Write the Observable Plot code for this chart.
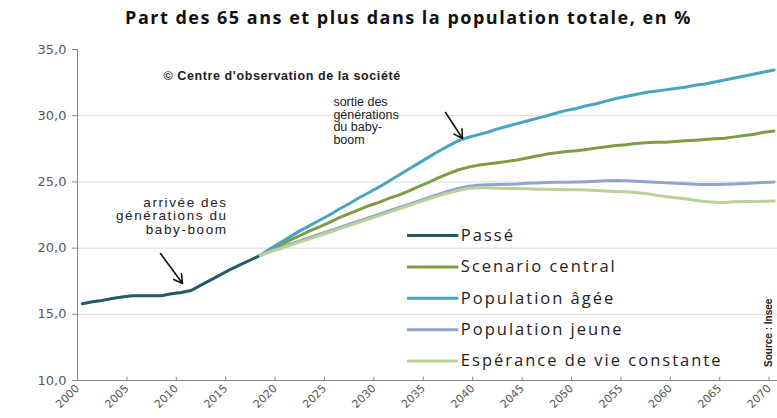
<!DOCTYPE html>
<html><head><meta charset="utf-8">
<script src="https://cdn.jsdelivr.net/npm/d3@7"></script>
<script src="https://cdn.jsdelivr.net/npm/@observablehq/plot@0.6"></script>
<style>
body{margin:0;background:#fff;width:777px;height:418px;overflow:hidden;}
#title{height:30px;box-sizing:border-box;padding-top:5px;padding-left:40px;text-align:center;font:700 18px 'Open Sans';line-height:24px;color:#111;letter-spacing:1.5px;}
</style></head><body>
<div id="title">Part des 65 ans et plus dans la population totale, en %</div>
<div id="chart"></div>
<script>
const pastYears = [2000,2001,2002,2003,2004,2005,2006,2007,2008,2009,2010,2011,2012,2013,2014,2015,2016,2017,2018];
const passe = [15.8,15.95,16.05,16.2,16.3,16.4,16.4,16.4,16.4,16.55,16.65,16.8,17.2,17.6,18.0,18.4,18.75,19.1,19.45];

const projYears = [2018,2019,2020,2021,2022,2023,2024,2025,2026,2027,2028,2029,2030,2031,2032,2033,2034,2035,2036,2037,2038,2039,2040,2041,2042,2043,2044,2045,2046,2047,2048,2049,2050,2051,2052,2053,2054,2055,2056,2057,2058,2059,2060,2061,2062,2063,2064,2065,2066,2067,2068,2069,2070];
const central = [19.45,19.85,20.2,20.6,20.95,21.3,21.6,21.95,22.3,22.6,22.9,23.2,23.45,23.75,24.0,24.3,24.65,24.95,25.3,25.6,25.9,26.1,26.25,26.35,26.45,26.55,26.65,26.8,26.95,27.1,27.2,27.3,27.35,27.45,27.55,27.65,27.75,27.8,27.9,27.95,28.0,28.0,28.05,28.1,28.15,28.2,28.25,28.3,28.4,28.5,28.6,28.75,28.85];
const agee = [19.45,19.95,20.4,20.85,21.3,21.7,22.1,22.5,22.95,23.35,23.8,24.2,24.6,25.05,25.5,25.95,26.4,26.85,27.3,27.7,28.1,28.35,28.55,28.75,29.0,29.2,29.4,29.6,29.8,30.0,30.2,30.4,30.55,30.75,30.9,31.1,31.3,31.45,31.6,31.75,31.85,31.95,32.05,32.15,32.3,32.4,32.55,32.7,32.85,33.0,33.15,33.3,33.45];
const jeune = [19.45,19.75,20.0,20.3,20.55,20.8,21.05,21.3,21.55,21.8,22.05,22.3,22.55,22.8,23.05,23.3,23.55,23.8,24.05,24.3,24.5,24.65,24.75,24.78,24.8,24.82,24.85,24.9,24.92,24.95,24.97,24.98,25.0,25.02,25.05,25.08,25.1,25.08,25.05,25.02,24.98,24.93,24.9,24.86,24.82,24.8,24.8,24.82,24.85,24.88,24.92,24.96,25.0];
const esperance = [19.45,19.72,19.95,20.2,20.45,20.7,20.95,21.2,21.45,21.7,21.95,22.2,22.45,22.7,22.95,23.2,23.45,23.7,23.95,24.15,24.35,24.5,24.55,24.55,24.52,24.5,24.5,24.48,24.45,24.45,24.42,24.4,24.4,24.38,24.35,24.32,24.28,24.25,24.2,24.12,24.0,23.9,23.8,23.72,23.62,23.52,23.47,23.45,23.5,23.52,23.52,23.53,23.55];

const seriesNames = ["Passé","Scenario central","Population âgée","Population jeune","Espérance de vie constante"];
const seriesColors = ["#245a68","#7e9d43","#4aa3bf","#8fa5cf","#bcd197"];
const xTicks = [2000,2005,2010,2015,2020,2025,2030,2035,2040,2045,2050,2055,2060,2065,2070];
const yTicks = [10,15,20,25,30,35];
const gridValues = [15,20,25,30];
const copyrightText = "© Centre d'observation de la société";
const sortieText = "sortie des\ngénérations\ndu baby-\nboom";
const arriveeText = "arrivée des\ngénérations du\nbaby-boom";
const sourceText = "Source : Insee";

const rows = [];
pastYears.forEach((y,i)=>rows.push({year:y, value:passe[i], series:seriesNames[0]}));
const proj = [central, agee, jeune, esperance];
proj.forEach((arr,k)=>projYears.forEach((y,i)=>rows.push({year:y, value:arr[i], series:seriesNames[k+1]})));

const legendRows = seriesNames.map((s,i)=>({series:s, color:seriesColors[i], y:20.95 - i*2.37}));
const fmt = d => d.toFixed(1).replace(".", ",");

const lineMarks = seriesNames.map((s,i)=>Plot.line(rows.filter(r=>r.series===s), {
  x: d=>d.year+0.5, y:"value", stroke: seriesColors[i], strokeWidth: 3, strokeLinejoin:"round", curve:"linear"
}));

const chart = Plot.plot({
  width: 777, height: 388,
  marginLeft: 77, marginRight: 0, marginTop: 19, marginBottom: 38,
  style: {fontFamily: "'DejaVu Sans'", background: "#fff", color: "#595959"},
  x: {domain: [2000, 2070.85]},
  y: {domain: [10, 35]},
  marks: [
    Plot.ruleY(gridValues, {stroke: "#d9d9d9", strokeWidth: 1}),
    Plot.ruleX([2000], {y1: 10, y2: 35, stroke: "#868686", strokeWidth: 1}),
    Plot.ruleY([10], {stroke: "#868686", strokeWidth: 1}),
    Plot.ruleX(xTicks, {y1: 10, y2: 10.25, stroke: "#868686"}),
    Plot.axisY(yTicks, {tickSize: 5, tickPadding: 6, tickFormat: fmt, fontSize: 13, label: null, stroke: "#868686", fill: "#595959"}),
    Plot.axisX(xTicks, {tickSize: 0, tickPadding: 6, tickRotate: -45, tickFormat: d=>String(d), fontSize: 11, label: null, fill: "#595959"}),
    ...lineMarks,
    Plot.ruleY(legendRows, {x1: 2033.4, x2: 2038.6, y: "y", stroke: "color", strokeWidth: 3}),
    Plot.text(legendRows, {x: 2038.8, y: "y", text: "series", textAnchor: "start", fontSize: 16.5, fontFamily: "'Open Sans'", fill: "#222"}),
    Plot.text([copyrightText], {x: 2008.7, y: 33.0, text: d=>d, textAnchor: "start", fontSize: 12.5, fontWeight: "bold", fontFamily: "'Liberation Sans'", fill: "#222"}),
    Plot.text([sortieText], {x: 2025.9, y: 31.4, text: d=>d, textAnchor: "start", lineAnchor: "top", lineHeight: 1.0, fontSize: 12.5, fontFamily: "'Liberation Sans'", fill: "#222"}),
    Plot.text([arriveeText], {x: 2015.2, y: 23.85, text: d=>d, textAnchor: "end", lineAnchor: "top", lineHeight: 1.0, fontSize: 13.5, fontFamily: "'Liberation Sans'", fill: "#222"}),
    Plot.arrow([{x1:2037.25,y1:30.24,x2:2038.97,y2:28.28},{x1:2008.4,y1:19.59,x2:2010.63,y2:17.33}], {x1:"x1", y1:"y1", x2:"x2", y2:"y2", stroke: "#111", strokeWidth: 1.6, headLength: 9}),
    Plot.text([sourceText], {x: 2069.95, y: 13.6, text: d=>d, rotate: -90, fontSize: 10, fontWeight: "bold", fontFamily: "'Liberation Sans'", fill: "#222"})
  ]
});
// widen letter spacing of some texts, as in the reference
const arriveeFlat = arriveeText.replace(/\n/g, "");
d3.select(chart).selectAll("text").each(function() {
  const t = this.textContent;
  if (seriesNames.includes(t)) this.setAttribute("letter-spacing", "2");
  else if (t === copyrightText) this.setAttribute("letter-spacing", "0.6");
  else if (t === arriveeFlat) this.setAttribute("letter-spacing", "1.6");
});
document.getElementById("chart").appendChild(chart);
</script>
</body></html>
